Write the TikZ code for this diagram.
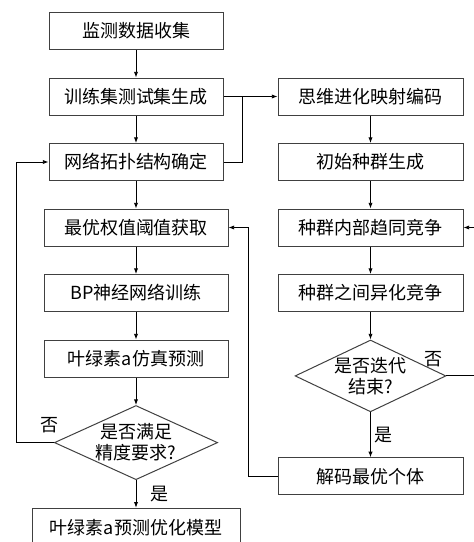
\documentclass[tikz,border=0pt]{standalone}
\usepackage{fontspec}
\setmainfont{Noto Sans CJK SC}
\usetikzlibrary{arrows.meta,positioning,calc,shapes.geometric}

\begin{document}
\begin{tikzpicture}[
  font=\fontsize{18}{21}\selectfont,
  box/.style={draw=black!75,line width=1pt,align=center,inner sep=2pt,
              minimum height=37pt,minimum width=174pt},
  wbox/.style={box,minimum width=184pt},
  rbox/.style={box,minimum width=185pt},
  dia/.style={diamond,draw=black!75,line width=1pt,align=center,inner sep=0pt},
  ar/.style={-{Latex[length=2mm]},black,line width=0.9pt},
  lbl/.style={inner sep=2pt},
  node distance=27.5pt]
\useasboundingbox (0,0) rectangle (474pt,-542pt);
\node[box] (collect) at (136pt,-31pt) {监测数据收集};
\node[box,below=of collect] (split) {训练集测试集生成};
\node[box,below=of split] (topo) {网络拓扑结构确定};
\node[wbox,below=of topo] (weight) {最优权值阈值获取};
\node[wbox,below=of weight] (train) {BP神经网络训练};
\node[wbox,below=of train] (sim) {叶绿素a仿真预测};
\node[dia,aspect=2.2,minimum width=159pt,minimum height=73pt,below=of sim] (acc)
  {是否满足\\精度要求?};
\node[box,minimum width=208pt,minimum height=38pt,below=of acc] (model)
  {叶绿素a预测优化模型};
\node[rbox,right=54pt of split] (code) {思维进化映射编码};
\node[rbox,below=of code] (init) {初始种群生成};
\node[rbox,below=of init] (simil) {种群内部趋同竞争};
\node[rbox,below=of simil] (dissim) {种群之间异化竞争};
\node[dia,aspect=2.1,minimum width=144pt,minimum height=71pt,below=of dissim] (iter)
  {是否迭代\\结束?};
\node[rbox,below=45pt of iter] (best) {解码最优个体};
\coordinate (jn) at ($(split.east)!0.35!(code.west)$);
\draw[ar] (collect) -- (split);
\draw[ar] (split) -- (topo);
\draw[ar] (topo) -- (weight);
\draw[ar] (weight) -- (train);
\draw[ar] (train) -- (sim);
\draw[ar] (sim) -- (acc);
\draw[ar] (acc) -- node[lbl,right,xshift=12pt] (yes1) {是} (model);
\draw[ar] (acc.west) -- node[lbl,above,pos=0.12,yshift=7pt] (no1) {否} ++(-37pt,0) |- (topo.west);
\draw[ar] (split.east) -- (code.west);
\draw[line width=0.9pt] (topo.east) -| (jn);
\draw[ar] (code) -- (init);
\draw[ar] (init) -- (simil);
\draw[ar] (simil) -- (dissim);
\draw[ar] (dissim) -- (iter);
\draw[ar] (iter) -- node[lbl,right,xshift=2pt] (yes2) {是} (best);
\draw[ar] (iter.east) -- ++(31pt,0) |- (simil.east);
\node[lbl,above=7pt of iter.east,xshift=-13pt] (no2) {否};
\draw[ar] (best.west) -- ++(-29pt,0) |- (weight.east);
\end{tikzpicture}
\end{document}
